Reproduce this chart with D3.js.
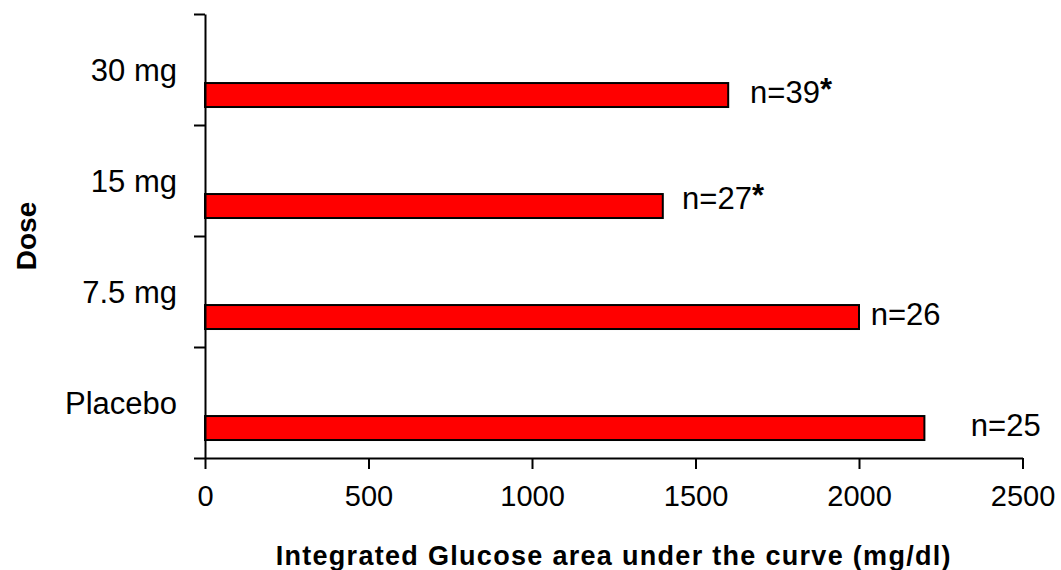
<!DOCTYPE html>
<html>
<head>
<meta charset="utf-8">
<script src="https://cdn.jsdelivr.net/npm/d3@7"></script>
<style>
  html, body { margin: 0; padding: 0; background: #fff; }
  svg { display: block; }
  text { font-family: "Liberation Sans", Arial, Helvetica, sans-serif; fill: #000; }
</style>
</head>
<body>
<svg id="chart" width="1061" height="570"></svg>
<script>
// ---- data ----
const categories = ["30 mg", "15 mg", "7.5 mg", "Placebo"];
const values = [1600, 1400, 2000, 2200];
const nLabels = ["n=39", "n=27", "n=26", "n=25"];
const significant = [true, true, false, false];
const labelAt = [1667, 1459, 2036, 2342];   // x position of n-labels, in data units
const xTicks = [0, 500, 1000, 1500, 2000, 2500];
const xTitle = "Integrated Glucose area under the curve (mg/dl)";
const yTitle = "Dose";

// ---- layout ----
const svg = d3.select("#chart");
const plot = { left: 205, right: 1022.5, top: 14, bottom: 458 };

const x = d3.scaleLinear().domain([0, 2500]).range([plot.left, plot.right]);
const y = d3.scaleBand().domain(categories).range([plot.top, plot.bottom]).padding(0);
const bw = y.bandwidth();
const yEdge = d3.scaleLinear().domain([0, categories.length]).range([plot.bottom, plot.top]);

// bars
svg.append("g").selectAll("rect")
  .data(categories)
  .join("rect")
  .attr("x", x(0))
  .attr("y", (d) => y(d) + bw * 0.622)
  .attr("width", (d, i) => x(values[i]) - x(0))
  .attr("height", bw * 0.216)
  .attr("fill", "#ff0000")
  .attr("stroke", "#000")
  .attr("stroke-width", 2);

// x axis
const xAxis = svg.append("g")
  .attr("transform", `translate(0,${plot.bottom})`)
  .call(d3.axisBottom(x).tickValues(xTicks).tickSize(11).tickSizeOuter(0).tickPadding(16).tickFormat(d3.format("d")));
xAxis.select(".domain").attr("stroke", "#000").attr("stroke-width", 2);
xAxis.selectAll(".tick line").attr("stroke", "#000").attr("stroke-width", 2);
xAxis.selectAll(".tick text").attr("font-size", 29).attr("font-family", "Liberation Sans, Arial, sans-serif").attr("fill", "#000");

// y axis (boundary ticks)
const yAxis = svg.append("g")
  .attr("transform", `translate(${plot.left},0)`)
  .call(d3.axisLeft(yEdge).tickValues(d3.range(categories.length + 1)).tickSize(11).tickSizeOuter(0).tickFormat(""));
yAxis.select(".domain").attr("stroke", "#000").attr("stroke-width", 2);
yAxis.selectAll(".tick line").attr("stroke", "#000").attr("stroke-width", 2);

// category labels
const yLab = svg.append("g")
  .attr("transform", `translate(${plot.left},0)`)
  .call(d3.axisLeft(y).tickSize(0).tickPadding(28));
yLab.select(".domain").remove();
yLab.selectAll(".tick text").attr("font-size", 31).attr("font-family", "Liberation Sans, Arial, sans-serif").attr("fill", "#000").attr("dy", "0.36em");

// n labels
const nl = svg.append("g").selectAll("text")
  .data(categories)
  .join("text")
  .attr("x", (d, i) => x(labelAt[i]))
  .attr("y", (d, i) => y(d) + bw * 0.80 - (i === 1 ? 5 : 0))
  .attr("font-size", 31);
nl.append("tspan").text((d, i) => nLabels[i]);
nl.filter((d, i) => significant[i]).append("tspan")
  .attr("font-weight", "bold")
  .attr("dy", -3)
  .text("*");

// axis titles
svg.append("text")
  .attr("x", (plot.left + plot.right) / 2)
  .attr("y", 565)
  .attr("text-anchor", "middle")
  .attr("font-size", 27)
  .attr("font-weight", "bold")
  .attr("letter-spacing", 1.3)
  .text(xTitle);

svg.append("text")
  .attr("transform", `translate(36,${(plot.top + plot.bottom) / 2}) rotate(-90)`)
  .attr("text-anchor", "middle")
  .attr("font-size", 28)
  .attr("font-weight", "bold")
  .text(yTitle);
</script>
</body>
</html>
